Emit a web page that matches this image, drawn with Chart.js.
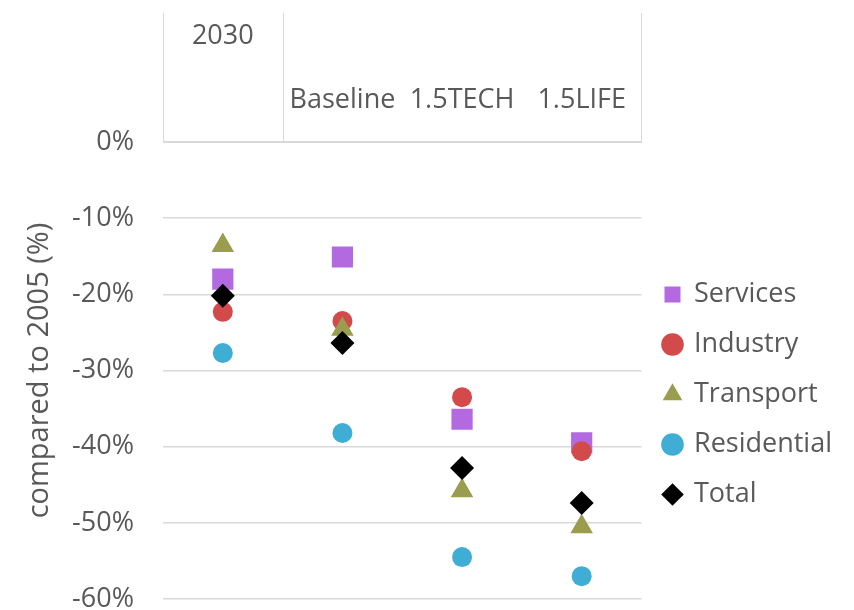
<!DOCTYPE html>
<html>
<head>
<meta charset="utf-8">
<script src="https://cdn.jsdelivr.net/npm/chart.js@4/dist/chart.umd.min.js"></script>
<style>
  body { margin: 0; background: #fff; }
</style>
</head>
<body>
<canvas id="chart" width="854" height="610"></canvas>
<script>
// chart values
var categories = ['2030', 'Baseline', '1.5TECH', '1.5LIFE'];
var yTicks = [0, -10, -20, -30, -40, -50, -60];
var services = [-18.0, -15.1, -36.4, -39.5];
var industry = [-22.3, -23.5, -33.5, -40.6];
var transport = [-13.6, -24.6, -45.8, -50.5];
var residential = [-27.7, -38.2, -54.5, -57.0];
var total = [-20.2, -26.4, -42.8, -47.4];

var textColor = '#595959';
var lineColor = '#d9d9d9';
Chart.defaults.font.family = '"Open Sans", sans-serif';
Chart.defaults.color = textColor;

// separators of the category header at the top
var headerLines = {
    id: 'headerLines',
    beforeDatasetsDraw: function(chart) {
        var x = chart.scales.x;
        var ctx = chart.ctx;
        var mid = (x.getPixelForTick(0) + x.getPixelForTick(1)) / 2;
        ctx.save();
        ctx.strokeStyle = lineColor;
        ctx.lineWidth = 1;
        [x.left, mid, x.right].forEach(function(px) {
            ctx.beginPath();
            ctx.moveTo(Math.round(px) + 0.5, 13);
            ctx.lineTo(Math.round(px) + 0.5, x.bottom);
            ctx.stroke();
        });
        ctx.restore();
    }
};

function series(label, data, style, color, radius, order) {
    return {
        label: label,
        data: data,
        showLine: false,
        pointStyle: style,
        pointRadius: radius,
        pointHoverRadius: radius,
        pointBackgroundColor: color,
        pointBorderColor: color,
        pointBorderWidth: 0,
        backgroundColor: color,
        borderColor: color,
        order: order
    };
}

new Chart(document.getElementById('chart'), {
    type: 'line',
    data: {
        labels: categories,
        datasets: [
            series('Services', services, 'rect', '#b36ae0', 15, 5),
            series('Industry', industry, 'circle', '#d24a4a', 10, 4),
            series('Transport', transport, 'triangle', '#9a9c4e', 13, 3),
            series('Residential', residential, 'circle', '#40aed4', 10, 2),
            series('Total', total, 'rectRot', '#000000', 12, 1)
        ]
    },
    options: {
        responsive: false,
        animation: false,
        layout: { autoPadding: false, padding: { top: 17, left: 0, right: 12, bottom: 11 } },
        plugins: {
            tooltip: { enabled: false },
            legend: {
                position: 'right',
                fullSize: false,
                // empty title only pushes the items down a little
                title: { display: true, text: ' ', font: { size: 10 }, padding: 18 },
                labels: {
                    usePointStyle: true,
                    boxWidth: 16,
                    boxHeight: 16,
                    padding: 23,
                    color: textColor,
                    font: { size: 27 },
                    sort: function(a, b) { return a.datasetIndex - b.datasetIndex; }
                }
            }
        },
        scales: {
            x: {
                position: 'top',
                offset: true,
                grid: { display: false },
                border: { display: true, color: lineColor, width: 1 },
                afterFit: function(scale) { scale.height = 125; },
                ticks: {
                    padding: 17,
                    maxRotation: 0,
                    autoSkip: false,
                    font: { size: 27 },
                    callback: function(v, i) {
                        return i === 0 ? [categories[i], '', ''] : categories[i];
                    }
                }
            },
            y: {
                min: -60,
                max: 0,
                afterBuildTicks: function(scale) {
                    scale.ticks = yTicks.map(function(v) { return { value: v }; });
                },
                afterFit: function(scale) {
                    scale.width = 163;
                    scale.paddingBottom = 0;
                },
                grid: { color: lineColor, lineWidth: 1.5, drawTicks: false },
                border: { display: false },
                ticks: {
                    padding: 29,
                    font: { size: 27 },
                    callback: function(v) { return v + '%'; }
                },
                title: {
                    display: true,
                    text: 'compared to 2005 (%)',
                    font: { size: 29 },
                    padding: { top: 22, bottom: 16 }
                }
            }
        }
    },
    plugins: [headerLines]
});
</script>
</body>
</html>
